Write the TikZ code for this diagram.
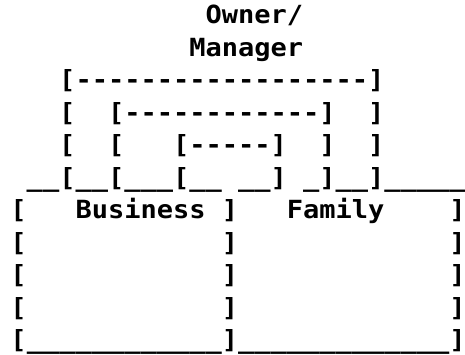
\documentclass[tikz,border=0pt]{standalone}
\usepackage{fontspec}
\setmonofont{DejaVu Sans Mono}[FakeStretch=1.08]
\usepackage{tikz}
\usetikzlibrary{positioning}

\begin{document}
\begin{tikzpicture}[
    x=16.25pt, y=-32.5pt,
    % one line of the character grid
    artline/.style={anchor=base west, inner sep=0pt, outer sep=0pt,
        font=\fontsize{25}{30}\selectfont\ttfamily\bfseries}
]
\useasboundingbox (-0.646,-0.738) rectangle (27.969,10.185);

% Owner / Manager on top
\node[artline] (owner) at (12,0) {Owner/};
\node[artline] (manager) at (11,1) {Manager};

% nested brackets
\node[artline] (outerbar) at (3,2) {[------------------]};
\node[artline] (middlebar) at (3,3) {[~~[------------]~~]};
\node[artline] (innerbar) at (3,4) {[~~[~~~[-----]~~]~~]};
\node[artline] (groundline) at (1,5) {\_\_[\_\_[\_\_\_[\_\_~\_\_]~\_]\_\_]\_\_\_\_\_};

% Business and Family boxes
\node[artline] (labels) at (0,6) {[~~~Business~]~~~Family~~~~]};
\node[artline] (sides1) at (0,7) {[~~~~~~~~~~~~]~~~~~~~~~~~~~]};
\node[artline] (sides2) at (0,8) {[~~~~~~~~~~~~]~~~~~~~~~~~~~]};
\node[artline] (sides3) at (0,9) {[~~~~~~~~~~~~]~~~~~~~~~~~~~]};
\node[artline] (baseline) at (0,10) {[\_\_\_\_\_\_\_\_\_\_\_\_]\_\_\_\_\_\_\_\_\_\_\_\_\_]};

\end{tikzpicture}
\end{document}
